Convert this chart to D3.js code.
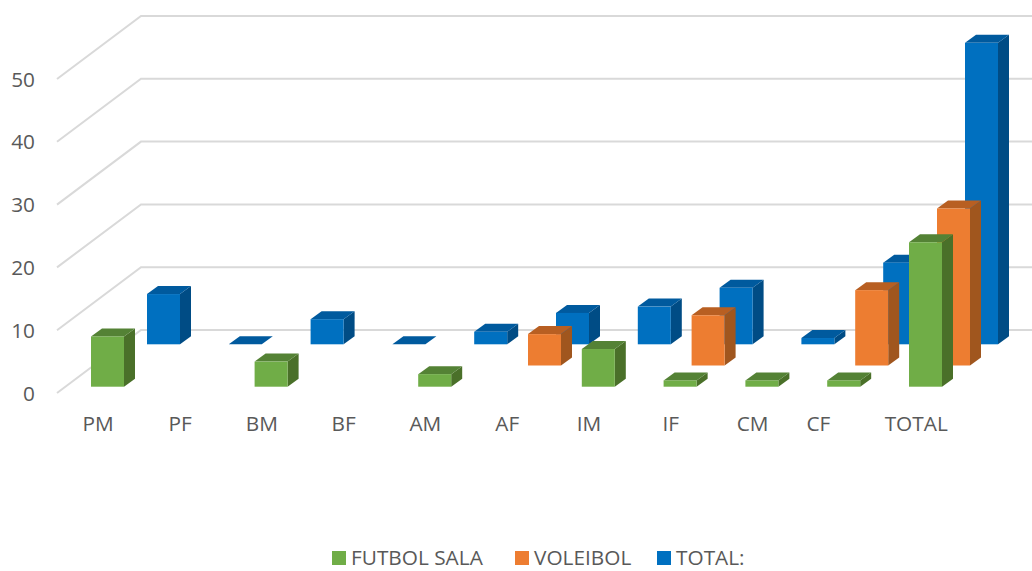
<!DOCTYPE html>
<html>
<head>
<meta charset="utf-8">
<style>
html,body{margin:0;padding:0;background:#fff;overflow:hidden}
text{font-family:"Open Sans",sans-serif;fill:#595959;font-size:20.8px}
</style>
<script src="https://d3js.org/d3.v7.min.js"></script>
</head>
<body>
<svg id="c" width="1032" height="571"></svg>
<script>
const categories = ["PM","PF","BM","BF","AM","AF","IM","IF","CM","CF","TOTAL"];
const futbolSala = [8,null,4,null,2,null,6,1,1,1,23];
const voleibol   = [null,null,null,null,null,5,null,8,null,12,25];
const totalValues = [8,0,4,0,2,5,6,9,1,13,48];
const seriesNames = ["FUTBOL SALA","VOLEIBOL","TOTAL:"];
const yTicks = [0,10,20,30,40,50];

const series = [
  {name:seriesNames[0],values:futbolSala,front:"#70AD47",top:"#548235",side:"#4A7029"},
  {name:seriesNames[1],values:voleibol,front:"#ED7D31",top:"#B85F22",side:"#A0561E"},
  {name:seriesNames[2],values:totalValues,front:"#0070C0",top:"#005A9E",side:"#004C85"}
];

const svg = d3.select("#c");
const step = 81.8, barW = 33, barDx = 11, barDy = 8;
const x = d3.scaleBand().domain(categories)
  .range([91, 91 + step*11 - (step-barW)])
  .paddingInner(1 - barW/step).paddingOuter(0);
const h = d3.scaleLinear().domain([0,50]).range([0,314]);
const depthX = d3.scalePoint().domain(seriesNames).range([0,56]);
const depthY = d3.scalePoint().domain(seriesNames).range([0,42.4]);
const base0 = 386.7;

// gridlines
const gx0=57, gx1=141, gFront=393, gBack=330;
svg.append("g").selectAll("path").data(yTicks).join("path")
  .attr("fill","none").attr("stroke","#D9D9D9").attr("stroke-width",2)
  .attr("d",v=>d3.line()([[gx0,gFront-h(v)],[gx1,gBack-h(v)],[1032,gBack-h(v)]]));

// y axis labels
svg.append("g").selectAll("text").data(yTicks).join("text")
  .attr("x",35).attr("y",v=>gFront-h(v)+7.5).attr("text-anchor","end").text(d=>d);

// bars, back row first
const bars = svg.append("g");
series.slice().reverse().forEach(s=>{
  const dx=depthX(s.name), base=base0-depthY(s.name);
  categories.forEach((c,i)=>{
    const v=s.values[i];
    if(v===null) return;
    const L=x(c)+dx, R=L+x.bandwidth(), T=base-h(v);
    const g=bars.append("g");
    if(v>0) g.append("path").attr("fill",s.side)
      .attr("d",d3.line()([[R,T],[R+barDx,T-barDy],[R+barDx,base-barDy],[R,base]])+"Z");
    g.append("path").attr("fill",s.top)
      .attr("d",d3.line()([[L,T],[L+barDx,T-barDy],[R+barDx,T-barDy],[R,T]])+"Z");
    if(v>0) g.append("rect").attr("fill",s.front)
      .attr("x",L).attr("y",T).attr("width",x.bandwidth()).attr("height",h(v));
  });
});

// category labels
const labelNudge = {CF:-16};
svg.append("g").selectAll("text").data(categories).join("text")
  .attr("x",c=>x(c)+7.2+(labelNudge[c]||0)).attr("y",431).attr("text-anchor","middle").text(d=>d);

// legend
const legendX = [332,515,657];
const leg = svg.append("g").selectAll("g").data(series).join("g")
  .attr("transform",(d,i)=>`translate(${legendX[i]},551)`);
leg.append("rect").attr("width",14).attr("height",14).attr("fill",d=>d.front);
leg.append("text").attr("x",19).attr("y",13.8).text(d=>d.name);
</script>
</body>
</html>
